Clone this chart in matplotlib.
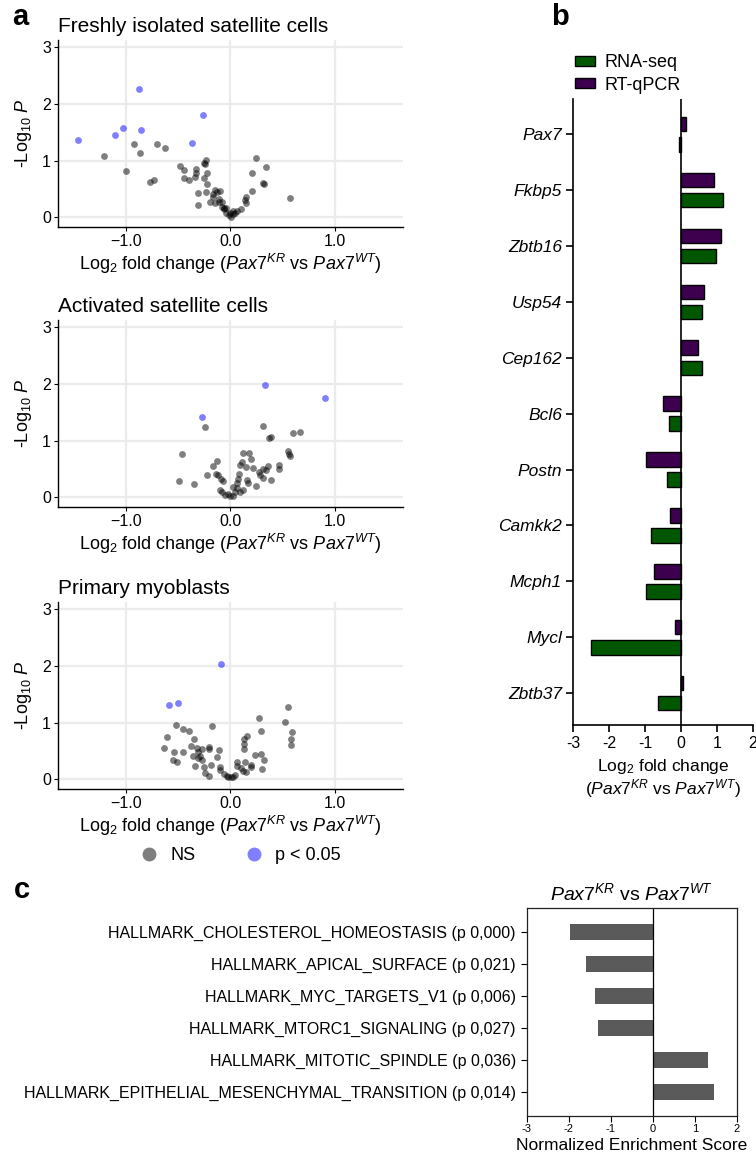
import matplotlib
matplotlib.use('Agg')
import matplotlib.pyplot as plt
from matplotlib.lines import Line2D
from matplotlib.patches import Patch

W, H = 756, 1162

plt.rcParams['font.family'] = ['Liberation Sans', 'DejaVu Sans']
plt.rcParams['mathtext.fontset'] = 'custom'
plt.rcParams['mathtext.rm'] = 'Liberation Sans'
plt.rcParams['mathtext.it'] = 'Liberation Sans:italic'
plt.rcParams['mathtext.bf'] = 'Liberation Sans:bold'

# ---- panel a : volcano data (log2 FC, -log10 P) ----
fresh_ns_x = [-1.21, -1.0, -0.92, -0.87, -0.77, -0.73, -0.70, -0.63, -0.48, -0.44, -0.44, -0.40,
              -0.33, -0.33, -0.34, -0.31, -0.31, -0.25, -0.23, -0.24, -0.22, -0.25, -0.22, -0.23,
              -0.20, -0.17, -0.15, -0.13, -0.10, -0.15, -0.11, -0.08, -0.17, -0.11, -0.08, -0.06,
              -0.06, -0.04, -0.01, 0.006, 0.025, 0.045, 0.06, 0.10, 0.14, 0.15, 0.15, 0.21, 0.21,
              0.24, 0.31, 0.32, 0.34, 0.57, -0.04, -0.006, 0.02]
fresh_ns_y = [1.08, 0.81, 1.29, 1.14, 0.63, 0.66, 1.29, 1.23, 0.91, 0.84, 0.70, 0.66,
              0.86, 0.79, 0.71, 0.43, 0.21, 0.96, 1.02, 0.94, 0.78, 0.69, 0.59, 0.44,
              0.28, 0.36, 0.48, 0.44, 0.46, 0.25, 0.27, 0.27, 0.41, 0.33, 0.19, 0.14,
              0.16, 0.08, 0.04, 0.01, 0.06, 0.07, 0.12, 0.14, 0.31, 0.26, 0.36, 0.47, 0.78,
              1.04, 0.61, 0.59, 0.89, 0.35, 0.16, 0.07, 0.12]
fresh_sig_x = [-1.46, -0.88, -1.105, -1.03, -0.855, -0.26, -0.37]
fresh_sig_y = [1.36, 2.26, 1.46, 1.57, 1.54, 1.81, 1.32]

act_ns_x = [-0.24, -0.46, -0.49, -0.35, -0.22, -0.17, -0.13, -0.14, -0.12, -0.09, -0.07, -0.10,
            -0.08, -0.05, -0.006, 0.02, 0.04, 0.025, 0.06, 0.07, 0.08, 0.095, 0.11, 0.12, 0.18,
            0.20, 0.15, 0.22, 0.16, 0.17, 0.24, 0.27, 0.31, 0.34, 0.31, 0.36, 0.28, 0.31, 0.37,
            0.39, 0.39, 0.46, 0.46, 0.55, 0.56, 0.57, 0.60, 0.66, 0.12, 0.09, 0.06, -0.025]
act_ns_y = [1.24, 0.77, 0.29, 0.23, 0.40, 0.56, 0.64, 0.42, 0.39, 0.32, 0.29, 0.13,
            0.09, 0.04, 0.02, 0.03, 0.10, 0.19, 0.25, 0.33, 0.42, 0.58, 0.62, 0.78, 0.78,
            0.67, 0.53, 0.52, 0.30, 0.26, 0.20, 0.45, 0.50, 0.48, 0.34, 0.56, 0.39, 1.26, 1.04,
            1.06, 0.30, 0.57, 0.50, 0.81, 0.76, 0.73, 1.14, 1.15, 0.13, 0.10, 0.16, 0.06]
act_sig_x = [-0.27, 0.33, 0.90]
act_sig_y = [1.42, 1.99, 1.76]

myo_ns_x = [-0.52, -0.45, -0.40, -0.61, -0.64, -0.54, -0.45, -0.55, -0.51, -0.35, -0.38, -0.32,
            -0.31, -0.27, -0.21, -0.21, -0.36, -0.31, -0.29, -0.27, -0.34, -0.25, -0.24, -0.21,
            -0.19, -0.18, -0.13, -0.11, -0.10, -0.10, -0.06, -0.03, -0.02, 0.006, 0.04, 0.06,
            0.06, 0.10, 0.12, 0.15, 0.14, 0.16, 0.13, 0.13, 0.13, 0.20, 0.23, 0.29, 0.32, 0.30,
            0.27, 0.29, 0.52, 0.55, 0.59, 0.58, 0.58, 0.20, 0.025]
myo_ns_y = [0.96, 0.89, 0.85, 0.75, 0.55, 0.49, 0.49, 0.34, 0.31, 0.72, 0.59, 0.56,
            0.49, 0.53, 0.57, 0.53, 0.42, 0.38, 0.42, 0.34, 0.23, 0.22, 0.11, 0.06,
            0.25, 0.95, 0.39, 0.51, 0.22, 0.16, 0.09, 0.06, 0.04, 0.04, 0.08, 0.31,
            0.24, 0.20, 0.15, 0.13, 0.30, 0.77, 0.72, 0.63, 0.53, 0.22, 0.43, 0.44, 0.35, 0.18,
            1.08, 0.86, 1.02, 1.27, 0.84, 0.71, 0.61, 0.25, 0.04]
myo_sig_x = [-0.09, -0.59, -0.50]
myo_sig_y = [2.03, 1.32, 1.35]

volcano_titles = ['Freshly isolated satellite cells', 'Activated satellite cells', 'Primary myoblasts']

# ---- panel b : RNA-seq vs RT-qPCR ----
genes = ['Pax7', 'Fkbp5', 'Zbtb16', 'Usp54', 'Cep162', 'Bcl6', 'Postn', 'Camkk2', 'Mcph1', 'Mycl', 'Zbtb37']
rnaseq = [-0.05, 1.17, 0.98, 0.59, 0.59, -0.34, -0.39, -0.82, -0.97, -2.50, -0.65]
qpcr = [0.13, 0.92, 1.10, 0.63, 0.46, -0.50, -0.96, -0.30, -0.76, -0.17, 0.06]

# ---- panel c : GSEA ----
pathways = ['HALLMARK_CHOLESTEROL_HOMEOSTASIS (p 0,000)',
            'HALLMARK_APICAL_SURFACE (p 0,021)',
            'HALLMARK_MYC_TARGETS_V1 (p 0,006)',
            'HALLMARK_MTORC1_SIGNALING (p 0,027)',
            'HALLMARK_MITOTIC_SPINDLE (p 0,036)',
            'HALLMARK_EPITHELIAL_MESENCHYMAL_TRANSITION (p 0,014)']
nes = [-1.97, -1.59, -1.37, -1.30, 1.30, 1.46]

XLAB = r'Log$_2$ fold change ($\mathit{Pax7}^{\mathit{KR}}$ vs $\mathit{Pax7}^{\mathit{WT}}$)'


def px_axes(fig, left, top, right, bottom):
    return fig.add_axes([left / W, 1 - bottom / H, (right - left) / W, (bottom - top) / H])


def volcano(ax, ns_x, ns_y, sig_x, sig_y, title):
    ax.set_xlim(-1.65, 1.65)
    ax.set_ylim(-0.17, 3.13)
    ax.set_xticks([-1, 0, 1])
    ax.set_xticklabels(['\u22121.0', '0.0', '1.0'])
    ax.set_yticks([0, 1, 2, 3])
    ax.grid(color='#EBEBEB', lw=1.6)
    ax.set_axisbelow(True)
    for s in ['top', 'right']:
        ax.spines[s].set_visible(False)
    for s in ['left', 'bottom']:
        ax.spines[s].set_linewidth(1.0)
    ax.tick_params(labelsize=11.5, length=3, width=0.8, pad=2)
    ax.scatter(ns_x, ns_y, s=24, color='black', alpha=0.5, linewidths=0)
    ax.scatter(sig_x, sig_y, s=24, color='blue', alpha=0.5, linewidths=0)
    ax.set_title(title, loc='left', fontsize=15, pad=6)
    ax.set_xlabel(XLAB, fontsize=13, labelpad=2)
    ax.set_ylabel(r'-Log$_{10}$ $\mathit{P}$', fontsize=13, labelpad=6)


fig = plt.figure(figsize=(W / 100, H / 100), dpi=100)

v_tops = [40, 320, 602]
volcano_data = [(fresh_ns_x, fresh_ns_y, fresh_sig_x, fresh_sig_y),
                (act_ns_x, act_ns_y, act_sig_x, act_sig_y),
                (myo_ns_x, myo_ns_y, myo_sig_x, myo_sig_y)]
for top, d, t in zip(v_tops, volcano_data, volcano_titles):
    ax = px_axes(fig, 58, top, 403, top + 187)
    volcano(ax, *d, t)

leg_handles = [Line2D([], [], marker='o', ls='', color='black', alpha=0.5, ms=10, mew=0, label='NS'),
               Line2D([], [], marker='o', ls='', color='blue', alpha=0.5, ms=10, mew=0, label='p < 0.05')]
fig.legend(handles=leg_handles, loc='center', bbox_to_anchor=(236 / W, 1 - 856 / H), ncol=2,
           frameon=False, fontsize=13, handletextpad=0.2, columnspacing=2.2)

# panel b
axb = px_axes(fig, 573, 99, 753, 725)
pos = list(range(len(genes)))
bh = 0.26
axb.barh([p + 0.18 for p in pos], rnaseq, height=bh, color='#005700', edgecolor='black', lw=1.0)
axb.barh([p - 0.18 for p in pos], qpcr, height=bh, color='#3d004f', edgecolor='black', lw=1.0)
axb.axvline(0, color='black', lw=1.2)
axb.set_xlim(-3, 2)
axb.set_ylim(10.57, -0.63)
axb.set_yticks(pos)
axb.set_yticklabels(genes, style='italic', fontsize=12.5)
axb.set_xticks([-3, -2, -1, 0, 1, 2])
axb.set_xticklabels(['-3', '-2', '-1', '0', '1', '2'])
for s in ['top', 'right']:
    axb.spines[s].set_visible(False)
for s in ['left', 'bottom']:
    axb.spines[s].set_linewidth(1.2)
axb.tick_params(axis='y', length=5, width=1.2, pad=3)
axb.tick_params(axis='x', length=5, width=1.2, labelsize=11.5, pad=3)
axb.set_xlabel('Log$_2$ fold change\n($\\mathit{Pax7}^{\\mathit{KR}}$ vs $\\mathit{Pax7}^{\\mathit{WT}}$)',
               fontsize=12.5, labelpad=4, linespacing=1.1)
b_handles = [Patch(facecolor='#005700', edgecolor='black', label='RNA-seq'),
             Patch(facecolor='#3d004f', edgecolor='black', label='RT-qPCR')]
fig.legend(handles=b_handles, loc='upper left', bbox_to_anchor=(559 / W, 1 - 38 / H), frameon=False,
           fontsize=13, handlelength=1.1, handleheight=0.5, handletextpad=0.5, labelspacing=0.3)

# panel c
axc = px_axes(fig, 527, 908, 737, 1116)
cpos = list(range(len(pathways)))
axc.barh(cpos, nes, height=0.49, color='#5a5a5a')
axc.axvline(0, color='black', lw=0.9)
axc.set_xlim(-3, 2)
axc.set_ylim(5.75, -0.75)
axc.set_yticks(cpos)
axc.set_yticklabels(pathways, fontsize=11.5)
axc.set_xticks([-3, -2, -1, 0, 1, 2])
axc.set_xticklabels(['-3', '-2', '-1', '0', '1', '2'])
for s in axc.spines.values():
    s.set_linewidth(0.9)
    s.set_color('#222222')
axc.tick_params(axis='y', length=4, width=0.8, pad=4)
axc.tick_params(axis='x', length=4, width=0.8, labelsize=8, pad=2)
axc.set_xlabel('Normalized Enrichment Score', fontsize=12.5, labelpad=3)
axc.set_title('$\\mathit{Pax7}^{\\mathit{KR}}$ vs $\\mathit{Pax7}^{\\mathit{WT}}$', fontsize=14, pad=6)

# panel letters
fig.text(20 / W, 1 - 17 / H, 'a', fontsize=21, fontweight='bold', ha='center', va='center')
fig.text(560 / W, 1 - 17 / H, 'b', fontsize=21, fontweight='bold', ha='center', va='center')
fig.text(22 / W, 1 - 890 / H, 'c', fontsize=21, fontweight='bold', ha='center', va='center')

fig.savefig('out.png', dpi=100)
